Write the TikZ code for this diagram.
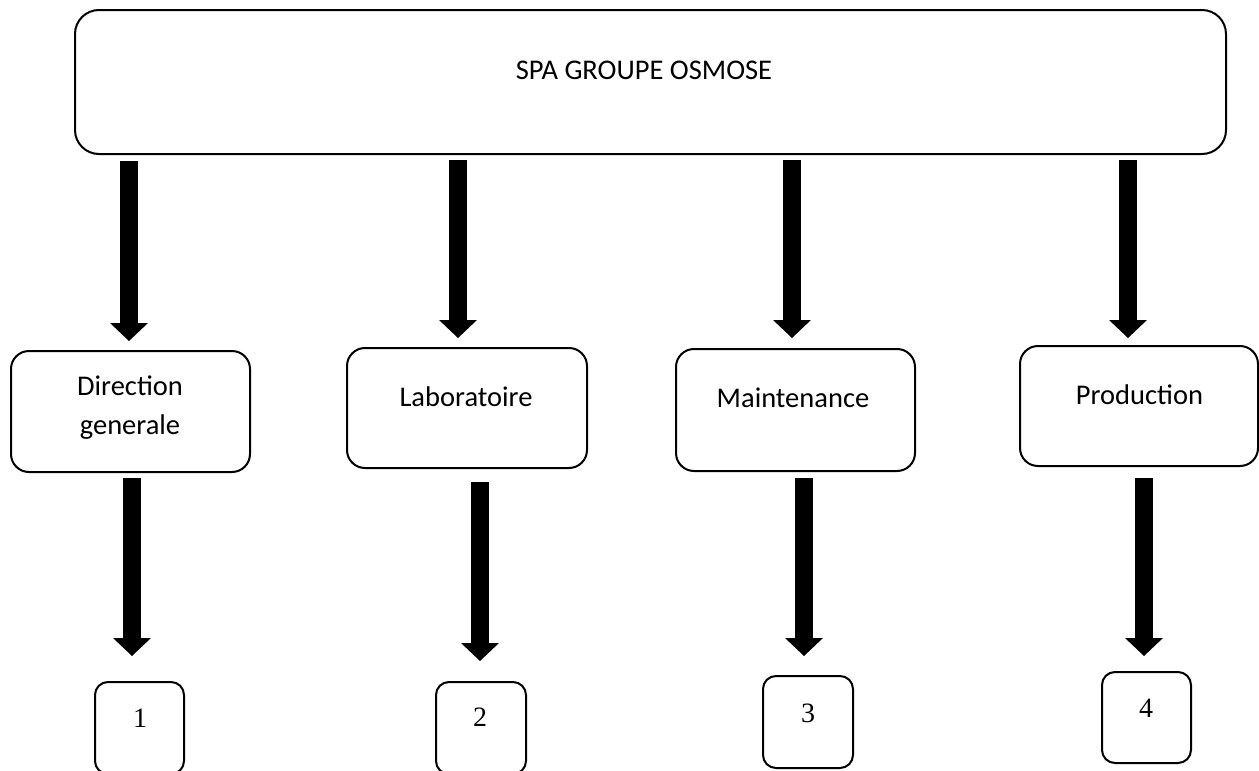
\documentclass[tikz,border=0pt]{standalone}
\usepackage{fontspec}
\setmainfont{Carlito}
\newfontfamily\numfont{Liberation Serif}
\usetikzlibrary{arrows.meta}
\begin{document}
\begin{tikzpicture}[x=1pt,y=-1pt,
  bigbox/.style={draw, line width=2pt, rounded corners=24pt, inner sep=0pt},
  midbox/.style={draw, line width=2pt, rounded corners=18pt, inner sep=0pt},
  smallbox/.style={draw, line width=2pt, rounded corners=13pt, inner sep=0pt},
  lbl/.style={anchor=base, inner sep=0pt, font=\fontsize{28.5pt}{34pt}\selectfont},
  numlbl/.style={anchor=base, inner sep=0pt, font=\numfont\fontsize{28pt}{33pt}\selectfont},
  bigarrow/.style={line width=18pt, -{Triangle[width=38pt,length=18pt,line width=0pt]}}]
\useasboundingbox (0,0) rectangle (1259,771);
\clip (0,0) rectangle (1259,771);

% top box
\node[bigbox, minimum width=1151pt, minimum height=144pt] (top) at (650.5,82) {};
\node[lbl] (toptxt) at (644,79) {SPA GROUPE OSMOSE};

% middle boxes
\node[midbox, minimum width=239pt, minimum height=121pt] (dg) at (130.5,411.5) {};
\node[lbl] (dgtxt1) at (130,395) {Direction};
\node[lbl] (dgtxt2) at (130,434) {generale};

\node[midbox, minimum width=240pt, minimum height=120pt] (lab) at (467,408) {};
\node[lbl] (labtxt) at (466,406) {Laboratoire};

\node[midbox, minimum width=239pt, minimum height=122pt] (mnt) at (795.5,410) {};
\node[lbl] (mnttxt) at (793,407) {Maintenance};

\node[midbox, minimum width=238pt, minimum height=120pt] (prod) at (1139,406) {};
\node[lbl] (prodtxt) at (1139.5,404) {Production};

% bottom boxes
\node[smallbox, minimum width=89pt, minimum height=92pt] (n1) at (139.5,728) {};
\node[numlbl] (n1txt) at (140,727) {1};
\node[smallbox, minimum width=90pt, minimum height=92pt] (n2) at (481,728) {};
\node[numlbl] (n2txt) at (480,726) {2};
\node[smallbox, minimum width=90pt, minimum height=92pt] (n3) at (808,722) {};
\node[numlbl] (n3txt) at (808,722) {3};
\node[smallbox, minimum width=89pt, minimum height=91pt] (n4) at (1146.5,717.5) {};
\node[numlbl] (n4txt) at (1146,717) {4};

% arrows from top box
\draw[bigarrow, shorten <=5.5pt, shorten >=9pt] ([xshift=-1.5pt]dg.north |- top.south) -- ([xshift=-1.5pt]dg.north);
\draw[bigarrow, shorten <=5pt, shorten >=9pt] ([xshift=-9pt]lab.north |- top.south) -- ([xshift=-9pt]lab.north);
\draw[bigarrow, shorten <=5pt, shorten >=10pt] ([xshift=-3.5pt]mnt.north |- top.south) -- ([xshift=-3.5pt]mnt.north);
\draw[bigarrow, shorten <=5pt, shorten >=7pt] ([xshift=-11pt]prod.north |- top.south) -- ([xshift=-11pt]prod.north);

% arrows to numbered boxes
\draw[bigarrow, shorten <=5pt, shorten >=25pt] ([xshift=1.5pt]dg.south) -- ([xshift=1.5pt]dg.south |- n1.north);
\draw[bigarrow, shorten <=13pt, shorten >=20pt] ([xshift=13pt]lab.south) -- ([xshift=13pt]lab.south |- n2.north);
\draw[bigarrow, shorten <=6pt, shorten >=19pt] ([xshift=8.5pt]mnt.south) -- ([xshift=8.5pt]mnt.south |- n3.north);
\draw[bigarrow, shorten <=11pt, shorten >=15pt] ([xshift=5pt]prod.south) -- ([xshift=5pt]prod.south |- n4.north);
\end{tikzpicture}
\end{document}
